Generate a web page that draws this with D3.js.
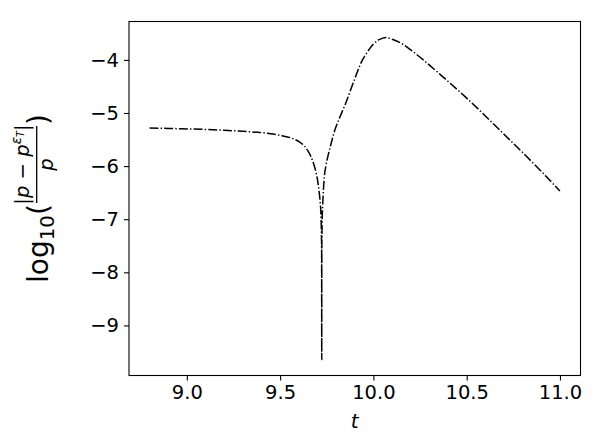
<!DOCTYPE html>
<html>
<head>
<meta charset="utf-8">
<script src="https://cdn.jsdelivr.net/npm/d3@7"></script>
<style>
  html, body { margin: 0; padding: 0; background: #fff; }
  svg { display: block; }
  text { font-family: "DejaVu Sans", sans-serif; fill: #000; }
</style>
</head>
<body>
<svg id="chart" width="600" height="446"></svg>
<script>
// ---- data ----
const tValues = [8.80, 8.90, 9.00, 9.10, 9.20, 9.30, 9.40, 9.45, 9.50, 9.55, 9.58, 9.61, 9.63, 9.65, 9.665, 9.68, 9.69, 9.70, 9.708, 9.714, 9.718, 9.721, 9.7225, 9.723, 9.7235, 9.725, 9.728, 9.732, 9.737, 9.745, 9.755, 9.77, 9.79, 9.82, 9.85, 9.89, 9.94, 9.97, 10.00, 10.03, 10.05, 10.07, 10.10, 10.15, 10.20, 10.25, 10.35, 10.50, 10.70, 10.90, 11.00];
const logErr = [-5.283, -5.29, -5.30, -5.31, -5.325, -5.345, -5.37, -5.39, -5.42, -5.46, -5.50, -5.56, -5.62, -5.72, -5.82, -5.96, -6.08, -6.25, -6.45, -6.65, -6.85, -7.2, -7.6, -9.64, -7.6, -7.1, -6.75, -6.45, -6.2, -6.0, -5.83, -5.62, -5.36, -5.08, -4.83, -4.45, -4.01, -3.84, -3.70, -3.62, -3.59, -3.58, -3.61, -3.69, -3.81, -3.95, -4.25, -4.72, -5.40, -6.10, -6.47];
const xTicks = [9.0, 9.5, 10.0, 10.5, 11.0];
const yTicks = [-9, -8, -7, -6, -5, -4];

const svg = d3.select("#chart");
const L = 129, R = 580.5, T = 21.5, B = 375.5;

function padded(ext) { const s = ext[1] - ext[0]; return [ext[0] - 0.05 * s, ext[1] + 0.05 * s]; }
const x = d3.scaleLinear().domain(padded(d3.extent(tValues))).range([L, R]);
const y = d3.scaleLinear().domain(padded(d3.extent(logErr))).range([B, T]);

const data = tValues.map((t, i) => ({t, v: logErr[i]}));

// curve
svg.append("path")
  .datum(data)
  .attr("fill", "none")
  .attr("stroke", "#000")
  .attr("stroke-width", 1.5)
  .attr("stroke-dasharray", "8.9,2.2,1.4,2.2")
  .attr("d", d3.line().x(d => x(d.t)).y(d => y(d.v)).curve(d3.curveMonotoneX));

// frame
svg.append("rect").attr("x", L).attr("y", T).attr("width", R - L).attr("height", B - T)
  .attr("fill", "none").attr("stroke", "#000").attr("stroke-width", 1.1);

// axes
const xAxis = svg.append("g").attr("transform", `translate(0,${B})`)
  .call(d3.axisBottom(x).tickValues(xTicks).tickFormat(d3.format(".1f")).tickSize(5).tickPadding(5));
const yAxis = svg.append("g").attr("transform", `translate(${L},0)`)
  .call(d3.axisLeft(y).tickValues(yTicks).tickFormat(d3.format("d")).tickSize(5).tickPadding(5));
[xAxis, yAxis].forEach(g => {
  g.select(".domain").remove();
  g.selectAll(".tick line").attr("stroke", "#000").attr("stroke-width", 1.1);
  g.selectAll(".tick text").attr("font-family", "DejaVu Sans").attr("font-size", 19.5).attr("fill", "#000");
});

// x label
svg.append("text").attr("x", (L + R) / 2).attr("y", 428).attr("text-anchor", "middle")
  .attr("font-size", 20).attr("font-style", "italic").text("t");

// y label: log10( |p - p^{eps_T}| / p ), rotated
const F = 28, f = F * 0.7;
const yl = svg.append("g").attr("transform", "translate(48,283) rotate(-90)");
const lg = yl.append("text").attr("x", 0).attr("y", 0).attr("font-size", F);
lg.append("tspan").text("log");
lg.append("tspan").attr("font-size", f).attr("dy", 6).text("10");
yl.append("text").attr("x", 68).attr("y", 0).attr("font-size", F).text("(");
yl.append("line").attr("x1", 80).attr("x2", 157).attr("y1", -11.3).attr("y2", -11.3)
  .attr("stroke", "#000").attr("stroke-width", 1.3);
const num = yl.append("text").attr("x", 118.5).attr("y", -19).attr("text-anchor", "middle").attr("font-size", f);
num.append("tspan").text("|");
num.append("tspan").attr("font-style", "italic").text("p");
num.append("tspan").text(" \u2212 ");
num.append("tspan").attr("font-style", "italic").text("p");
num.append("tspan").attr("font-style", "italic").attr("font-size", f * 0.7).attr("dy", -8).text("\u03b5");
num.append("tspan").attr("font-style", "italic").attr("font-size", f * 0.5).attr("dy", 3).text("T");
num.append("tspan").attr("dy", 5).text("|");
yl.append("text").attr("x", 118.5).attr("y", 4.5).attr("text-anchor", "middle").attr("font-size", f)
  .attr("font-style", "italic").text("p");
yl.append("text").attr("x", 158).attr("y", 0).attr("font-size", F).text(")");
</script>
</body>
</html>
